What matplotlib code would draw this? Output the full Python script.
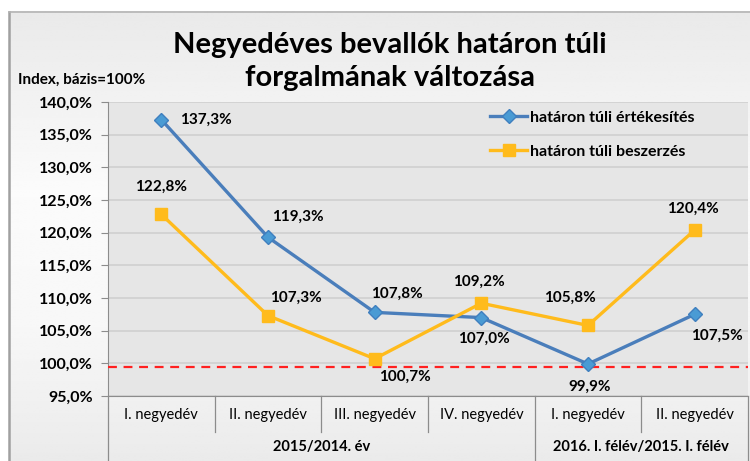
import numpy as np
import matplotlib
matplotlib.use("Agg")
import matplotlib.pyplot as plt
from matplotlib.lines import Line2D
import matplotlib.transforms as mtransforms

plt.rcParams['font.family'] = ['Lato', 'DejaVu Sans']

# data
quarters = ["I. negyedév", "II. negyedév", "III. negyedév", "IV. negyedév",
            "I. negyedév", "II. negyedév"]
groups = ["2015/2014. év", "2016. I. félév/2015. I. félév"]
group_sizes = [4, 2]
ertekesites = [137.3, 119.3, 107.8, 107.0, 99.9, 107.5]
beszerzes = [122.8, 107.3, 100.7, 109.2, 105.8, 120.4]
baseline = 99.4
yticks = [95, 100, 105, 110, 115, 120, 125, 130, 135, 140]

# label offsets in pixels (dx, dy)
off_blue = [(19, 0), (30, 20), (22, 19), (3, -21), (2, -23), (22, -21)]
off_orange = [(0, 28), (28, 18), (30, -18), (-2, 21), (-18, 28), (-2, 21)]


def pct(v):
    return ("%.1f%%" % v).replace(".", ",")


W, H = 750, 461
fig = plt.figure(figsize=(W / 100, H / 100), dpi=100)
fig.patch.set_facecolor("white")

# background frame with vertical gradient
bg = fig.add_axes([0, 0, 1, 1], zorder=0)
bg.set_xlim(0, W)
bg.set_ylim(H, 0)
bg.axis("off")
ys = np.linspace(0, 1, 200)
shade = np.interp(ys, [0, 0.4, 0.7, 1], [0.915, 0.985, 0.97, 0.92])
grad = np.repeat(shade[:, None], 2, axis=1)
bg.imshow(grad, cmap="gray", vmin=0, vmax=1, extent=[9, W, H, 12],
          aspect="auto", interpolation="bilinear")
bg.plot([9, 9], [12, H], color="#a0a0a0", lw=1.8)
bg.plot([9, W], [12, 12], color="#b4b4b4", lw=1.2)

fig.text(390 / W, 1 - 45 / H, "Negyedéves bevallók határon túli",
         ha="center", va="center", fontsize=21, fontweight="bold", zorder=5)
fig.text(390 / W, 1 - 78 / H, "forgalmának változása",
         ha="center", va="center", fontsize=21, fontweight="bold", zorder=5)
fig.text(18 / W, 1 - 80 / H, "Index, bázis=100%", ha="left", va="center",
         fontsize=11, fontweight="bold", zorder=5)

ax = fig.add_axes([108 / W, 1 - 396 / H, 640 / W, 294 / H], zorder=2)
ax.set_facecolor("#e6e6e6")
x = np.arange(len(quarters))
ax.set_xlim(-0.5, len(quarters) - 0.5)
ax.set_ylim(95, 140)
ax.set_yticks(yticks)
ax.set_yticklabels([pct(v) for v in yticks])
for lab in ax.get_yticklabels():
    lab.set_fontweight("bold")
ax.tick_params(axis="y", length=5, width=0.8, color="#8c8c8c", labelsize=11.5, pad=6)
ax.set_xticks([])
ax.grid(axis="y", color="#d2d2d2", lw=1.3)
ax.set_axisbelow(True)
for s in ["top", "right"]:
    ax.spines[s].set_visible(False)
ax.spines["left"].set_color("#8c8c8c")
ax.spines["bottom"].set_color("#8c8c8c")

ax.axhline(baseline, color="#ff2020", lw=1.6, ls=(0, (4, 3)), zorder=3)

ax.plot(x, ertekesites, color="#4a7ebb", lw=2.4, marker="D", ms=7,
        mfc="#4a9bd4", mec="#3f7fbf", label="határon túli értékesítés", zorder=4)
ax.plot(x, beszerzes, color="#ffbb1c", lw=2.4, marker="s", ms=8,
        mfc="#ffbb1c", mec="#ffbb1c", label="határon túli beszerzés", zorder=4)

for i, v in enumerate(ertekesites):
    dx, dy = off_blue[i]
    ha = "left" if i == 0 else "center"
    ax.annotate(pct(v), (x[i], v), xytext=(dx, dy),
                textcoords="offset pixels", ha=ha, va="center",
                fontsize=11, fontweight="bold", zorder=5)
for i, v in enumerate(beszerzes):
    dx, dy = off_orange[i]
    ax.annotate(pct(v), (x[i], v), xytext=(dx, dy),
                textcoords="offset pixels", ha="center", va="center",
                fontsize=11, fontweight="bold", zorder=5)

ax.legend(loc="upper left", bbox_to_anchor=(368 / 640, 1.02), frameon=False,
          handlelength=2.3, labelspacing=1.25, handletextpad=0.2,
          prop={"weight": "bold", "size": 11.5})

# category axis (two levels)
tr = mtransforms.blended_transform_factory(ax.transData, ax.transAxes)
for i, q in enumerate(quarters):
    ax.text(x[i], -0.065, q, transform=tr, ha="center", va="center",
            fontsize=10.5, clip_on=False)
start = 0
bounds = [-0.5]
for g, n in zip(groups, group_sizes):
    center = start + (n - 1) / 2
    ax.text(center, -0.172, g, transform=tr, ha="center", va="center",
            fontsize=10.5, fontweight="bold", clip_on=False)
    start += n
    bounds.append(start - 0.5)
for b in np.arange(-0.5, len(quarters), 1.0):
    full = b in bounds
    ax.add_line(Line2D([b, b], [0, -0.23 if full else -0.122], transform=tr,
                       color="#8c8c8c", lw=0.9, clip_on=False))

fig.savefig("out.png", dpi=100)
